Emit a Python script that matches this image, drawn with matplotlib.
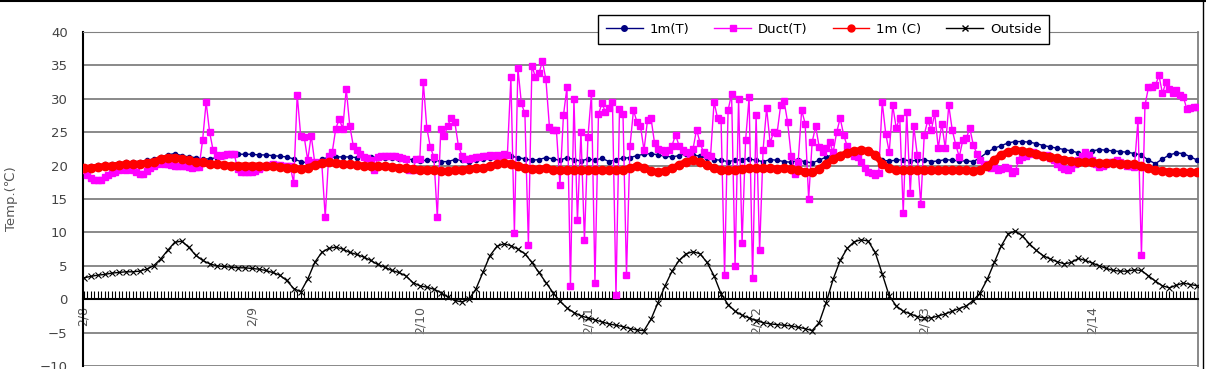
import numpy as np
import matplotlib.pyplot as plt
from matplotlib.lines import Line2D

## Data

days = ["2/8", "2/9", "2/10", "2/11", "2/12", "2/13", "2/14"]

# 1m(T), hourly from 2/8 00:00
t_1m = [19.8, 20.0, 20.1, 20.2, 20.3, 20.4, 20.5, 20.6, 20.6, 20.8,
        21.0, 21.3, 21.6, 21.8, 21.5, 21.3, 21.2, 21.0, 21.0, 21.2,
        21.5, 21.6, 21.7, 21.7, 21.7, 21.6, 21.6, 21.5, 21.4, 21.3,
        21.0, 20.6, 20.4, 20.6, 21.0, 21.2, 21.3, 21.3, 21.3, 21.2,
        21.3, 21.3, 21.2, 21.2, 21.2, 21.0, 21.0, 20.9, 20.7, 20.8,
        20.9, 20.6, 20.6, 20.9, 20.8, 20.6, 20.8, 21.0, 21.2, 21.4,
        21.6, 21.4, 21.2, 21.0, 20.8, 20.9, 21.2, 21.0, 20.8, 21.2,
        20.9, 20.7, 21.0, 20.8, 21.1, 20.6, 20.9, 21.1, 21.2, 21.5,
        21.7, 21.8, 21.6, 21.4, 21.3, 21.5, 21.8, 21.6, 21.4, 21.1,
        20.9, 20.8, 20.6, 20.8, 20.9, 21.0, 20.8, 20.6, 20.9, 20.8,
        20.6, 20.5, 20.8, 20.6, 20.4, 20.8, 21.3, 21.6, 21.8, 22.0,
        22.3, 22.3, 22.0, 21.3, 20.8, 20.7, 20.8, 20.9, 20.7, 20.8,
        20.9, 20.6, 20.7, 20.9, 20.8, 20.7, 20.7, 20.6, 21.2, 22.0,
        22.6, 23.0, 23.4, 23.6, 23.6, 23.5, 23.3, 23.0, 22.8, 22.6,
        22.4, 22.2, 21.9, 21.6, 22.2, 22.4, 22.3, 22.2, 22.1, 22.0,
        21.8, 21.6, 20.8, 20.3, 21.0, 21.6, 21.9, 21.8, 21.3, 20.8]

# Duct(T), every 30 min
duct = [19.3, 18.6, 18.2, 17.9, 17.8, 17.9, 18.3, 18.6, 18.9, 19.1,
        19.3, 19.5, 19.4, 19.6, 19.3, 19.0, 18.8, 18.8, 19.2, 19.6,
        20.0, 20.3, 20.4, 20.3, 20.2, 20.1, 20.0, 20.0, 20.0, 19.9,
        19.8, 19.7, 19.8, 19.8, 23.8, 29.5, 25.0, 22.3, 21.6, 21.5,
        21.6, 21.7, 21.8, 21.8, 19.5, 19.0, 19.0, 19.0, 19.1, 19.2,
        19.5, 19.8, 20.0, 20.1, 20.2, 20.1, 20.1, 20.0, 20.0, 19.9,
        17.4, 30.6, 24.5, 24.3, 20.8, 24.5, 20.5, 20.3, 20.5, 12.3,
        21.5, 22.0, 25.5, 27.0, 25.5, 31.5, 26.0, 23.0, 22.3, 21.8,
        21.3, 21.2, 20.8, 19.3, 21.3, 21.5, 21.5, 21.5, 21.5, 21.4,
        21.3, 21.2, 21.0, 19.3, 19.3, 21.0, 21.0, 32.5, 25.6, 22.8,
        21.3, 12.3, 25.5, 24.5, 26.0, 27.2, 26.5, 23.0, 21.5, 21.0,
        21.0, 21.2, 21.3, 21.3, 21.4, 21.5, 21.6, 21.5, 21.6, 21.5,
        21.7, 21.6, 33.2, 9.9, 34.6, 29.3, 27.8, 8.1, 34.9, 33.3,
        33.8, 35.6, 32.9, 25.8, 25.3, 25.3, 17.1, 27.5, 31.7, 2.0,
        29.9, 11.8, 25.0, 8.8, 24.3, 30.8, 2.5, 27.7, 29.3, 28.0,
        28.6, 29.5, 0.6, 28.4, 27.7, 3.6, 22.9, 28.3, 26.5, 25.9,
        22.3, 26.8, 27.1, 23.4, 22.5, 22.3, 22.0, 22.3, 23.0, 24.6,
        23.0, 22.3, 22.0, 21.8, 22.5, 25.4, 23.4, 22.0, 21.6, 21.5,
        29.5, 27.1, 26.8, 3.6, 28.3, 30.7, 4.9, 29.9, 8.4, 23.8,
        30.2, 3.1, 27.5, 7.3, 22.4, 28.6, 23.4, 25.0, 24.9, 29.0,
        29.6, 26.5, 21.5, 18.7, 20.5, 28.3, 26.3, 15.0, 23.5, 25.9,
        22.8, 22.0, 22.6, 23.5, 22.0, 25.0, 27.1, 24.6, 22.9, 22.0,
        21.5, 21.3, 20.5, 19.6, 19.0, 18.9, 18.6, 18.9, 29.5, 24.8,
        22.0, 29.0, 25.6, 27.2, 12.9, 28.0, 15.9, 25.9, 21.6, 14.2,
        24.6, 26.8, 25.3, 27.8, 22.6, 26.3, 22.6, 29.0, 25.3, 23.1,
        21.3, 23.8, 24.1, 25.6, 23.1, 21.8, 20.8, 20.0, 20.3, 19.6,
        20.0, 19.3, 19.5, 19.8, 19.6, 18.9, 19.2, 20.8, 21.3, 21.5,
        21.8, 22.0, 21.8, 21.6, 21.5, 21.6, 21.2, 20.8, 20.3, 19.8,
        19.5, 19.3, 19.6, 20.2, 20.8, 21.5, 22.0, 21.6, 20.8, 20.2,
        19.8, 20.0, 20.2, 20.5, 20.6, 20.8, 20.6, 20.3, 20.0, 19.9,
        19.8, 26.8, 6.6, 29.0, 31.7, 31.8, 32.0, 33.5, 30.8, 32.5,
        31.5, 30.8, 31.3, 30.5, 30.2, 28.4, 28.6, 28.7, 28.8]

# 1m (C), hourly
c_1m = [19.6, 19.7, 19.8, 19.9, 20.0, 20.1, 20.2, 20.2, 20.3, 20.4,
        20.6, 21.0, 21.2, 21.2, 21.0, 20.8, 20.6, 20.5, 20.3, 20.2,
        20.1, 20.0, 20.0, 20.0, 20.0, 20.0, 19.9, 19.9, 19.8, 19.7,
        19.6, 19.5, 19.7, 20.1, 20.4, 20.5, 20.4, 20.3, 20.2, 20.1,
        20.0, 20.0, 19.9, 19.9, 19.8, 19.7, 19.6, 19.5, 19.4, 19.4,
        19.3, 19.2, 19.2, 19.3, 19.4, 19.5, 19.6, 19.7, 19.9, 20.2,
        20.4, 20.3, 20.0, 19.7, 19.5, 19.5, 19.6, 19.4, 19.3, 19.3,
        19.3, 19.3, 19.3, 19.3, 19.3, 19.3, 19.3, 19.4, 19.6, 20.0,
        19.7, 19.2, 19.0, 19.2, 19.6, 20.1, 20.6, 20.8, 20.6, 20.1,
        19.6, 19.3, 19.3, 19.4, 19.5, 19.6, 19.6, 19.6, 19.6, 19.5,
        19.6, 19.5, 19.3, 19.1, 19.0, 19.5, 20.3, 21.0, 21.5, 21.9,
        22.2, 22.3, 22.2, 21.6, 20.3, 19.6, 19.3, 19.3, 19.3, 19.3,
        19.3, 19.3, 19.3, 19.3, 19.3, 19.3, 19.3, 19.2, 19.4, 19.9,
        20.8, 21.6, 22.1, 22.3, 22.2, 22.0, 21.8, 21.5, 21.3, 21.1,
        20.9, 20.7, 20.6, 20.5, 20.5, 20.4, 20.4, 20.4, 20.3, 20.3,
        20.2, 20.0, 19.6, 19.3, 19.2, 19.1, 19.1, 19.0, 19.0, 19.0]

# Outside, hourly
outside = [3.2, 3.4, 3.6, 3.7, 3.9, 4.0, 4.1, 4.1, 4.2, 4.5,
           5.0, 6.0, 7.3, 8.5, 8.7, 7.8, 6.6, 5.8, 5.3, 5.0,
           4.9, 4.8, 4.7, 4.7, 4.6, 4.5, 4.3, 4.0, 3.6, 2.8,
           1.6, 1.1, 3.0, 5.5, 7.0, 7.6, 7.8, 7.5, 7.0, 6.7,
           6.3, 5.8, 5.2, 4.8, 4.3, 4.0, 3.5, 2.5, 2.0, 1.8,
           1.5, 1.0, 0.3, -0.2, -0.4, 0.0, 1.5, 4.0, 6.5, 7.9,
           8.3, 8.0, 7.5, 6.8, 5.5, 4.0, 2.5, 1.0, -0.3, -1.3,
           -2.0, -2.5, -2.8, -3.1, -3.4, -3.7, -3.9, -4.1, -4.4, -4.6,
           -4.7, -3.0, -0.5, 2.0, 4.2, 5.8, 6.8, 7.1, 6.8, 5.5,
           3.5, 0.8, -0.8, -1.8, -2.4, -2.8, -3.2, -3.5, -3.7, -3.8,
           -3.9, -4.0, -4.2, -4.4, -4.7, -3.5, -0.5, 3.0, 5.8, 7.6,
           8.6, 8.9, 8.7, 7.0, 3.8, 0.5, -1.0, -1.8, -2.2, -2.6,
           -2.8, -2.8, -2.5, -2.2, -1.8, -1.4, -1.0, -0.2, 1.0, 3.0,
           5.5, 8.0, 9.8, 10.2, 9.5, 8.3, 7.3, 6.5, 6.0, 5.6,
           5.3, 5.5, 6.1, 5.8, 5.4, 5.0, 4.6, 4.3, 4.2, 4.2,
           4.4, 4.3, 3.5, 2.7, 2.0, 1.7, 2.1, 2.4, 2.2, 2.0]

x_hour = np.arange(len(t_1m)) / 24
x_half = np.arange(len(duct)) / 48

## Plot

plt.rcParams['font.family'] = ['DejaVu Sans']

fig = plt.figure(figsize=(12.06, 3.69), dpi=100)
ax = fig.add_axes([83 / 1206, 3 / 369, 1115 / 1206, 334 / 369])

ax.plot(x_hour, t_1m, color='#000080', lw=1, marker='o', ms=3, zorder=3)
ax.plot(x_half, duct, color='#FF00FF', lw=1, marker='s', ms=5, zorder=4)
ax.plot(x_hour, c_1m, color='#FF0000', lw=4.5, marker='o', ms=6, zorder=5)
ax.plot(x_hour, outside, color='black', lw=1, marker='x', ms=5, mew=0.8, zorder=6)

ax.set_ylim(-10, 40)
ax.set_xlim(-0.003, 6.628)
ax.set_yticks(range(-10, 41, 5))
ax.yaxis.grid(True, color='#808080', lw=1.3)
ax.set_axisbelow(True)

ax.spines['bottom'].set_position(('data', 0))
ax.spines['bottom'].set_linewidth(1.5)
ax.spines['left'].set_linewidth(1.5)
ax.spines['top'].set_color('#808080')
ax.spines['right'].set_color('#808080')
ax.spines['right'].set_linewidth(1.3)

ax.set_xticks(np.arange(len(days)))
ax.set_xticklabels(days, rotation=90)
ax.set_xticks(np.arange(0, 6.63, 1 / 48), minor=True)
ax.tick_params(axis='x', which='both', direction='in', length=6, width=0.8,
               colors='black', labelcolor='#555555', labelsize=9, pad=5)
ax.tick_params(axis='y', length=0, pad=11, labelcolor='#444444', labelsize=9.5)

ax.set_ylabel("Temp.(℃)", fontsize=9.5, color='#555555')
ax.yaxis.set_label_coords(-0.058, 0.5)

handles = [
    Line2D([], [], color='#000080', lw=1, marker='o', ms=4),
    Line2D([], [], color='#FF00FF', lw=1, marker='s', ms=5),
    Line2D([], [], color='#FF0000', lw=1, marker='o', ms=5),
    Line2D([], [], color='black', lw=1, marker='x', ms=5),
]
labels = ["1m(T)", "Duct(T)", "1m (C)", "Outside"]
leg = ax.legend(handles, labels, ncol=4, loc='upper left',
                bbox_to_anchor=(598 / 1206, 1 - 15 / 369), bbox_transform=fig.transFigure,
                fontsize=9.5, frameon=True, fancybox=False, framealpha=1,
                edgecolor='black', handlelength=2.8, handletextpad=0.5,
                columnspacing=1.9, borderpad=0.6, borderaxespad=0)
leg.get_frame().set_linewidth(1)
leg.set_zorder(10)

## Chart border
fig.add_artist(Line2D([0, 1], [1 - 1 / 369, 1 - 1 / 369], color='black', lw=1.5,
                      transform=fig.transFigure))
fig.add_artist(Line2D([1203 / 1206, 1203 / 1206], [0, 1], color='black', lw=1,
                      transform=fig.transFigure))

fig.savefig("out.png", dpi=100)
